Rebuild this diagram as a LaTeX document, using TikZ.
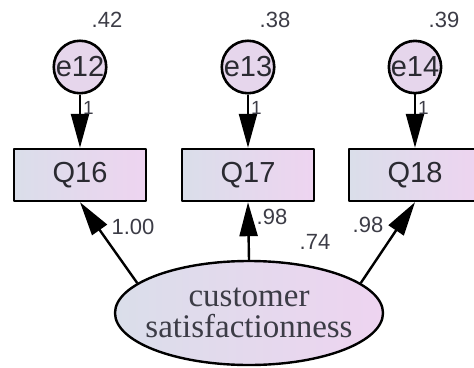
\documentclass[tikz,border=0pt]{standalone}
\usepackage{fontspec}
\setmainfont{Liberation Sans}
\newfontfamily\latfont{Liberation Serif}
\usetikzlibrary{arrows.meta,shapes.geometric}
\definecolor{fillL}{RGB}{218,222,234}
\definecolor{fillR}{RGB}{238,212,240}
\definecolor{errfill}{RGB}{230,214,236}
\definecolor{txt}{RGB}{60,60,70}
\begin{document}
\begin{tikzpicture}[x=1pt,y=-1pt,line join=round,
    errvar/.style={circle,draw,line width=2.6pt,fill=errfill,minimum size=48pt,
      inner sep=0pt,text=txt!70!black,font=\fontsize{29}{29}\selectfont},
    obsvar/.style={rectangle,draw,line width=2.4pt,left color=fillL,right color=fillR,
      minimum width=132pt,minimum height=52pt,inner sep=0pt,text=txt!70!black,
      font=\fontsize{29}{29}\selectfont},
    latvar/.style={ellipse,draw,line width=2.4pt,left color=fillL,right color=fillR,
      minimum width=268pt,minimum height=104pt,inner xsep=-14pt,inner ysep=0pt,
      align=center,text=txt,font=\latfont\fontsize{33}{31}\selectfont},
    est/.style={text=txt,font=\fontsize{22}{22}\selectfont},
    reg/.style={line width=2.4pt,-{Triangle[length=34pt,width=18pt]}}]
  \useasboundingbox (0,0) rectangle (474,367);
  % error terms and indicators
  \node[errvar] (e12) at (80,67) {e12};
  \node[errvar] (e13) at (248,67) {e13};
  \node[errvar] (e14) at (415,67) {e14};
  \node[obsvar] (q16) at (80,175) {Q16};
  \node[obsvar] (q17) at (248,175) {Q17};
  \node[obsvar] (q18) at (415,175) {Q18};
  \node[latvar] (sat) at (249,313) {customer\\satisfactionness};
  % squared multiple correlations
  \node[est] (r16) at (107,20) {.42};
  \node[est] (r17) at (275,20) {.38};
  \node[est] (r18) at (444,20) {.39};
  \node[est] (r0) at (315,242) {.74};
  \draw[reg] (e12) -- (q16) node[est,pos=0.25,right,font=\fontsize{19}{19}\selectfont,inner sep=2pt] (w16) {1};
  \draw[reg] (e13) -- (q17) node[est,pos=0.25,right,font=\fontsize{19}{19}\selectfont,inner sep=2pt] (w17) {1};
  \draw[reg] (e14) -- (q18) node[est,pos=0.25,right,font=\fontsize{19}{19}\selectfont,inner sep=2pt] (w18) {1};
  % loadings
  \draw[reg] (sat.165) -- (q16.south);
  \draw[reg] (sat.north) -- (q17.south);
  \draw[reg] (sat.15) -- (q18.south);
  \node[est] (l16) at (133,227) {1.00};
  \node[est] (l17) at (272,217) {.98};
  \node[est] (l18) at (368,225) {.98};
\end{tikzpicture}
\end{document}
